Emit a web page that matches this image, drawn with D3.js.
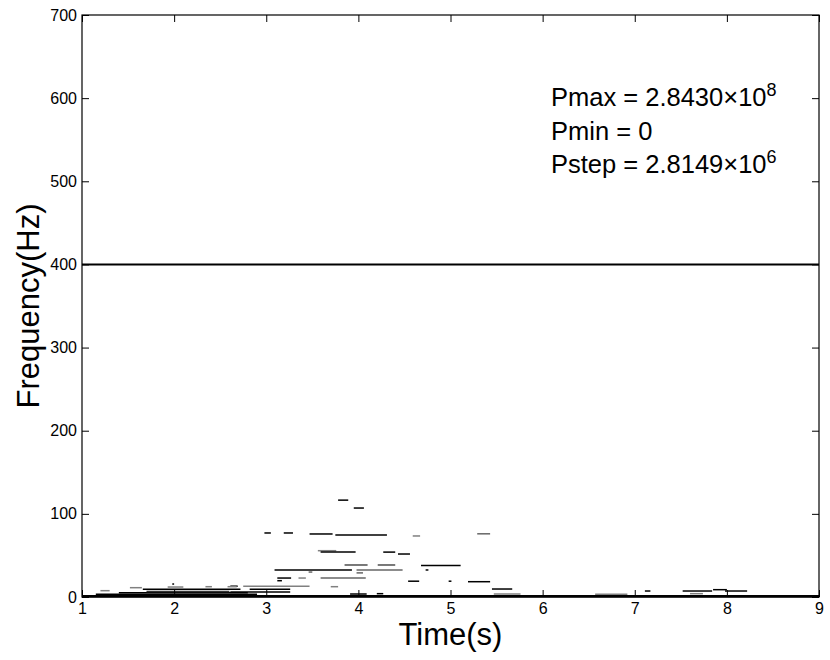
<!DOCTYPE html>
<html lang="en">
<head>
<meta charset="UTF-8">
<title>Spectrogram</title>
<style>
  body { margin: 0; background: #fff; }
  svg text { font-family: "Liberation Sans", Arial, Helvetica, sans-serif; fill: #000; }
</style>
</head>
<body>
<svg id="chart" width="830" height="660"></svg>
<script src="https://d3js.org/d3.v7.min.js"></script>
<script>
// ridge segments: start time, end time, frequency, shade (1 = black)
var segStart = [3.78, 3.95, 2.98, 3.19, 3.47, 3.75, 3.56, 3.59, 4.27, 4.43,
                3.85, 4.21, 3.09, 3.98, 3.98, 3.12, 3.35, 3.59, 4.59, 5.29,
                4.68, 4.54, 5.19, 5.45, 5.47, 2.75, 3.70, 3.12, 2.61, 2.82,
                2.61, 3.91, 4.20, 6.57, 7.11, 7.52, 7.85, 7.98, 7.60, 1.20,
                1.52, 1.98, 1.93, 1.66, 2.34, 2.58, 1.00, 1.15, 1.40, 1.70,
                4.73, 4.98, 3.46];
var segEnd   = [3.89, 4.06, 3.05, 3.29, 3.72, 4.31, 3.76, 3.97, 4.40, 4.56,
                4.10, 4.40, 3.93, 4.48, 4.05, 3.27, 3.43, 4.08, 4.67, 5.43,
                5.11, 4.66, 5.43, 5.67, 5.76, 3.47, 3.78, 3.17, 2.69, 3.26,
                3.26, 4.09, 4.27, 6.92, 7.17, 7.84, 8.00, 8.22, 7.74, 1.30,
                1.65, 2.00, 2.10, 2.72, 2.41, 2.68, 3.00, 2.90, 2.80, 2.60,
                4.76, 5.01, 3.50];
var segFreq  = [116.5, 107, 77, 77, 75.8, 74.6, 55.7, 54, 54, 51.7,
                38.5, 38.5, 32.5, 32.5, 29, 22.8, 22.8, 22.8, 73.4, 76,
                38, 19, 18.4, 9.6, 3.6, 12.8, 12.4, 19.6, 13, 9.2,
                6, 3.6, 4, 3.2, 7.2, 7.2, 8.8, 7.2, 4, 7.6,
                11.2, 15.6, 12, 9.2, 12.4, 12.4, 1.5, 3.2, 5, 6.5,
                32.5, 19, 30];
var segShade = [1, 1, 1, 1, 1, 1, 0.5, 1, 1, 1,
                0.7, 0.7, 1, 0.6, 0.6, 1, 0.5, 0.6, 0.5, 0.6,
                1, 1, 1, 1, 0.5, 0.5, 0.5, 1, 1, 1,
                1, 1, 1, 0.5, 1, 1, 1, 1, 0.5, 0.5,
                0.5, 1, 0.5, 1, 0.5, 0.5, 1, 1, 1, 0.8,
                1, 1, 0.6];

// the band at the very bottom and the cut-off line
var baseFreq = [1];
var markFreq = [400];

var xTicks = [1, 2, 3, 4, 5, 6, 7, 8, 9];
var yTicks = [0, 100, 200, 300, 400, 500, 600, 700];

var infoLines = [
  { text: "Pmax = 2.8430\u00d710", sup: "8" },
  { text: "Pmin = 0", sup: "" },
  { text: "Pstep = 2.8149\u00d710", sup: "6" }
];

var svg = d3.select("#chart");
var margin = { left: 82, top: 15, right: 11, bottom: 63 };
var W = 830 - margin.left - margin.right;
var H = 660 - margin.top - margin.bottom;

var x = d3.scaleLinear().domain([1, 9]).range([0, W]);
var y = d3.scaleLinear().domain([0, 700]).range([H, 0]);

var g = svg.append("g").attr("transform", "translate(" + margin.left + "," + margin.top + ")");

// ridges
var segs = segStart.map(function(s, i) {
  return { t0: s, t1: segEnd[i], f: segFreq[i], k: segShade[i] };
});
var shade = d3.scaleLinear().domain([0, 1]).range(["#ffffff", "#000000"]);

g.selectAll("line.seg")
  .data(segs)
  .enter()
  .append("line")
  .attr("class", "seg")
  .attr("x1", function(d) { return x(d.t0); })
  .attr("x2", function(d) { return x(d.t1); })
  .attr("y1", function(d) { return y(d.f); })
  .attr("y2", function(d) { return y(d.f); })
  .attr("stroke", function(d) { return shade(d.k); })
  .attr("stroke-width", 1.5);

g.selectAll("line.base")
  .data(baseFreq)
  .enter()
  .append("line")
  .attr("x1", x(1)).attr("x2", x(9))
  .attr("y1", function(d) { return y(d); })
  .attr("y2", function(d) { return y(d); })
  .attr("stroke", "#000")
  .attr("stroke-width", 2.5);

g.selectAll("line.mark")
  .data(markFreq)
  .enter()
  .append("line")
  .attr("x1", x(1)).attr("x2", x(9))
  .attr("y1", function(d) { return y(d); })
  .attr("y2", function(d) { return y(d); })
  .attr("stroke", "#000")
  .attr("stroke-width", 2);

// axes, ticks point inward
var fmt = d3.format("d");
g.append("g").attr("transform", "translate(0," + H + ")")
  .call(d3.axisBottom(x).tickValues(xTicks).tickFormat(fmt).tickSizeInner(-7).tickSizeOuter(0).tickPadding(6));
g.append("g")
  .call(d3.axisLeft(y).tickValues(yTicks).tickFormat(fmt).tickSizeInner(-7).tickSizeOuter(0).tickPadding(5));
g.append("g")
  .call(d3.axisTop(x).tickValues(xTicks).tickFormat("").tickSizeInner(-7).tickSizeOuter(0));
g.append("g").attr("transform", "translate(" + W + ",0)")
  .call(d3.axisRight(y).tickValues(yTicks).tickFormat("").tickSizeInner(-7).tickSizeOuter(0));

g.selectAll(".tick text").style("font-size", "16px").attr("fill", "#000");
g.selectAll(".tick line").attr("stroke", "#000");
g.selectAll(".domain").remove();

g.append("rect")
  .attr("width", W).attr("height", H)
  .attr("fill", "none").attr("stroke", "#000").attr("stroke-width", 1.2);

// labels
svg.append("text")
  .attr("x", margin.left + W / 2).attr("y", 645)
  .attr("text-anchor", "middle")
  .style("font-size", "31px")
  .text("Time(s)");

svg.append("text")
  .attr("transform", "translate(39," + (margin.top + H / 2) + ") rotate(-90)")
  .attr("text-anchor", "middle")
  .style("font-size", "31px")
  .text("Frequency(Hz)");

// info block
var info = svg.append("g").attr("transform", "translate(551,0)");
infoLines.forEach(function(l, i) {
  var t = info.append("text")
    .attr("x", 0).attr("y", 106 + i * 33.5)
    .style("font-size", "25.5px");
  t.append("tspan").text(l.text);
  if (l.sup) {
    t.append("tspan").attr("dy", -10).style("font-size", "18px").text(l.sup);
  }
});
</script>
</body>
</html>
